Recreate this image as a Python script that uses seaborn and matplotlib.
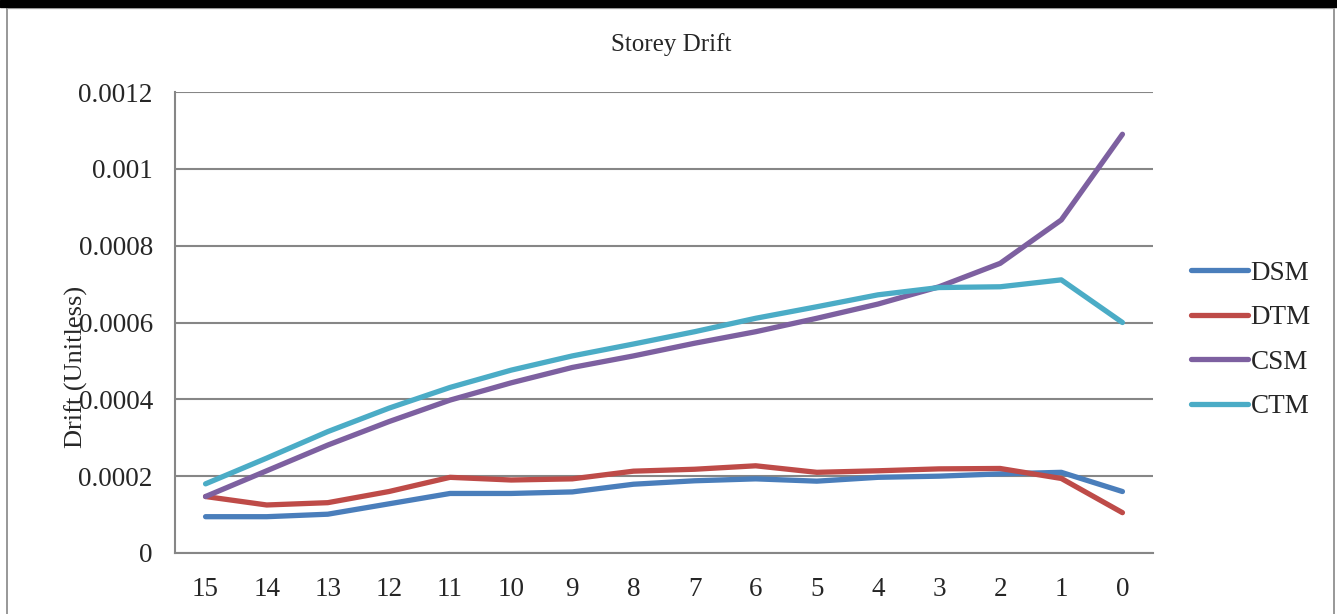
import numpy as np
import pandas as pd
import seaborn as sns
import matplotlib.pyplot as plt
from matplotlib.lines import Line2D

# Data
storeys = ['15', '14', '13', '12', '11', '10', '9', '8', '7', '6', '5', '4', '3', '2', '1', '0']
dsm = [0.0000945, 0.0000945, 0.000101, 0.000128, 0.000155, 0.000155, 0.000159, 0.000179,
       0.000188, 0.000193, 0.000187, 0.000197, 0.000200, 0.000206, 0.000210, 0.000160]
dtm = [0.000147, 0.000125, 0.000131, 0.000160, 0.000197, 0.000190, 0.000193, 0.000213,
       0.000218, 0.000227, 0.000210, 0.000214, 0.000219, 0.000220, 0.000194, 0.000105]
csm = [0.000147, 0.000214, 0.000281, 0.000342, 0.000398, 0.000443, 0.000483, 0.000513,
       0.000546, 0.000576, 0.000611, 0.000648, 0.000693, 0.000754, 0.000867, 0.001090]
ctm = [0.000180, 0.000247, 0.000316, 0.000377, 0.000431, 0.000476, 0.000513, 0.000544,
       0.000576, 0.000611, 0.000641, 0.000672, 0.000691, 0.000693, 0.000711, 0.000600]
series_names = ['DSM', 'DTM', 'CSM', 'CTM']
y_ticks = [0, 0.0002, 0.0004, 0.0006, 0.0008, 0.001, 0.0012]
y_tick_labels = ['0', '0.0002', '0.0004', '0.0006', '0.0008', '0.001', '0.0012']

custom_palette = ['#4A7EBB', '#BE4B48', '#7D60A0', '#4BACC6']

# Long-form table for seaborn
pos = np.arange(len(storeys))
df = pd.DataFrame({
    'pos': np.tile(pos, 4),
    'Drift': dsm + dtm + csm + ctm,
    'Series': np.repeat(series_names, len(storeys)),
})

sns.set_style('white')
plt.rcParams['font.family'] = ['Liberation Serif', 'DejaVu Serif']
plt.rcParams['font.size'] = 19

fig = plt.figure(figsize=(13.37, 6.14), dpi=100)
ax = fig.add_axes([175/1337, 1 - 553/614, (1153 - 175)/1337, (553 - 92)/614])

sns.lineplot(data=df, x='pos', y='Drift', hue='Series', hue_order=series_names,
             palette=custom_palette, linewidth=3.8, ax=ax, sort=False,
             solid_capstyle='round')

# Axes styling (Excel-like)
ax.set_xlim(-0.5, len(storeys) - 0.5)
ax.set_ylim(0, 0.0012)
ax.set_xticks(pos)
ax.set_xticklabels(storeys)
ax.set_yticks(y_ticks)
ax.set_yticklabels(y_tick_labels)
ax.tick_params(axis='both', length=0, labelsize=19.5)
ax.tick_params(axis='x', pad=17)
ax.tick_params(axis='y', pad=16)
ax.yaxis.grid(True, color='#868686', linewidth=1.5)
ax.set_axisbelow(True)
for side in ['top', 'right']:
    ax.spines[side].set_visible(False)
for side in ['left', 'bottom']:
    ax.spines[side].set_color('#868686')
    ax.spines[side].set_linewidth(1.5)
ax.set_xlabel('')
ax.set_ylabel('')

# Title and y label (the label sits over the tick labels, as in the original)
fig.text(671/1337, 1 - 45/614, 'Storey Drift', ha='center', va='center', fontsize=18)
fig.text(76/1337, 1 - 367/614, 'Drift (Unitless)', ha='center', va='center',
         rotation=90, fontsize=19)

# Legend on the right
ax.get_legend().remove()
handles = [Line2D([0], [0], color=c, linewidth=3.8, solid_capstyle='round') for c in custom_palette]
fig.legend(handles, series_names, loc='center left', bbox_to_anchor=(1191/1337, 1 - 340/614),
           frameon=False, handlelength=2.1, handletextpad=0.1, labelspacing=0.72,
           borderpad=0, borderaxespad=0, fontsize=19.5)

# Chart frame: black bar on top, gray border
fig.add_artist(plt.Rectangle((0, 1 - 7/614), 1, 7/614, transform=fig.transFigure,
                             color='black', zorder=5))
fig.add_artist(Line2D([7/1337, 7/1337], [0, 1 - 7/614], transform=fig.transFigure,
                      color='#868686', linewidth=1.2))
fig.add_artist(Line2D([1334/1337, 1334/1337], [0, 1 - 7/614], transform=fig.transFigure,
                      color='#868686', linewidth=1.2))
fig.add_artist(Line2D([7/1337, 1334/1337], [1 - 8/614, 1 - 8/614], transform=fig.transFigure,
                      color='#BBBBBB', linewidth=1.0))

plt.savefig('out.png', dpi=100)
